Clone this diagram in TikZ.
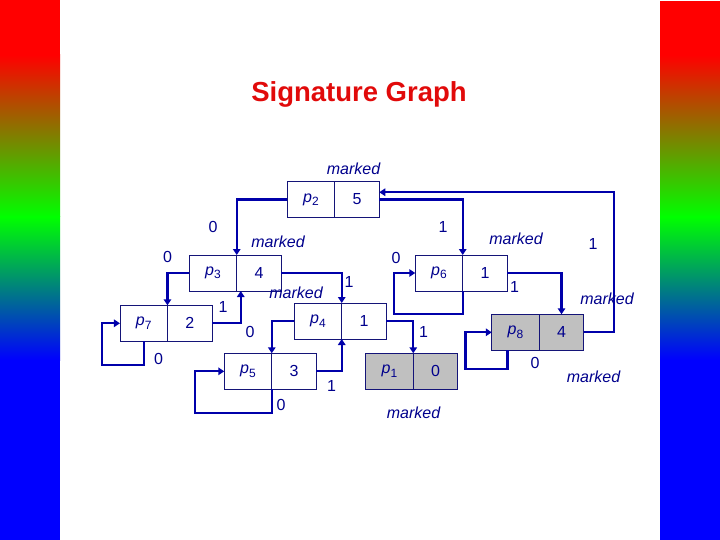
\documentclass[tikz,border=0pt]{standalone}
\usepackage{fontspec}
\setmainfont{Liberation Sans}
\usetikzlibrary{positioning, arrows.meta}

\definecolor{edgeblue}{RGB}{0,0,170}
\definecolor{boxblue}{RGB}{20,20,120}
\definecolor{txtblue}{RGB}{0,0,140}
\definecolor{cellgray}{RGB}{192,192,192}
\definecolor{titlered}{RGB}{225,10,10}
\newcommand{\pl}[1]{\textit{p}\raisebox{-3.5pt}{\fontsize{12}{12}\selectfont #1}}

\begin{document}
\begin{tikzpicture}[
  x=1pt, y=-1pt,
  namecell/.style={draw=boxblue, line width=0.8pt, minimum width=47.5pt,
    minimum height=36pt, inner sep=0pt, outer sep=0pt, text=txtblue,
    font=\fontsize{16}{16}\selectfont},
  countcell/.style={namecell, minimum width=44.5pt},
  grayed/.style={fill=cellgray},
  edge/.style={draw=edgeblue, line width=2.3pt, -{Triangle[length=6pt,width=7.5pt]}},
  lbl/.style={text=txtblue, inner sep=0pt, font=\fontsize{16}{16}\selectfont},
  mk/.style={lbl, font=\fontsize{16}{16}\selectfont\itshape},
]
  \useasboundingbox (0,0) rectangle (720,540);

  % side bars
  \foreach \bx in {0,660} {
    \fill[red] (\bx,0) rectangle ++(60,55);
    \shade[top color=red, bottom color=green] (\bx,55) rectangle ++(60,162);
    \shade[top color=green, bottom color=blue] (\bx,217) rectangle ++(60,143);
    \fill[blue] (\bx,360) rectangle ++(60,180);
  }
  \fill[white] (660,0) rectangle (720,1);

  \node[font=\bfseries\fontsize{27.5}{27.5}\selectfont, text=titlered] (title) at (359,94) {Signature Graph};

  % boxes
  \node[namecell] (p2) at (311,199.5) {\pl{2}};
  \node[countcell, right=0pt of p2] (p2c) {5};
  \node[namecell] (p3) at (213,273) {\pl{3}};
  \node[countcell, right=0pt of p3] (p3c) {4};
  \node[namecell] (p6) at (439,273) {\pl{6}};
  \node[countcell, right=0pt of p6] (p6c) {1};
  \node[namecell] (p7) at (143.7,323.3) {\pl{7}};
  \node[countcell, right=0pt of p7] (p7c) {2};
  \node[namecell] (p4) at (318,321) {\pl{4}};
  \node[countcell, right=0pt of p4] (p4c) {1};
  \node[namecell] (p5) at (248,371.3) {\pl{5}};
  \node[countcell, right=0pt of p5] (p5c) {3};
  \node[namecell, grayed] (p1) at (389.5,371.3) {\pl{1}};
  \node[countcell, grayed, right=0pt of p1] (p1c) {0};
  \node[namecell, grayed] (p8) at (515.5,332.3) {\pl{8}};
  \node[countcell, grayed, right=0pt of p8] (p8c) {4};

  % edges
  \draw[edge] (p2.west) -| (p3.north east);
  \draw[edge] (p2c.east) -| (p6.north east);
  \draw[edge] (p8c.east) -- ++(30,0) |- (p2c.18);
  \draw[edge] (p6.south east) -- ++(0,23) -- ++(-69,0) |- (p6.west);
  \draw[edge] (p6c.east) -| (p8c.north);
  \draw[edge] (p3.west) -| (p7.north east);
  \draw[edge] (p3c.east) -| (p4.north east);
  \draw[edge] (p7c.east) -| ([xshift=4pt]p3c.south west);
  \draw[edge] (p7.south) -- ++(0,24) -- ++(-42,0) |- (p7.west);
  \draw[edge] (p4.west) -| (p5.north east);
  \draw[edge] (p4c.east) -| (p1.north east);
  \draw[edge] (p5c.east) -| (p4.south east);
  \draw[edge] (p5.south east) -- ++(0,23.4) -- ++(-77,0) |- (p5.west);
  \draw[edge] ([xshift=-8pt]p8.south) -- ++(0,19) -- ++(-42,0) |- (p8.west);

  % edge labels
  \node[lbl] (l23) at (213,227) {0};
  \node[lbl] (l26) at (443,227) {1};
  \node[lbl] (l82) at (593,244) {1};
  \node[lbl] (l66) at (396,257.5) {0};
  \node[lbl] (l68) at (514.5,287) {1};
  \node[lbl] (l37) at (167.5,256.5) {0};
  \node[lbl] (l34) at (349,282) {1};
  \node[lbl] (l73) at (223,306.5) {1};
  \node[lbl] (l77) at (158.5,359) {0};
  \node[lbl] (l45) at (250,331.5) {0};
  \node[lbl] (l41) at (423.5,331.5) {1};
  \node[lbl] (l54) at (331.5,386) {1};
  \node[lbl] (l55) at (281,405) {0};
  \node[lbl] (l88) at (535,362.5) {0};

  % marks
  \node[mk] (mk2) at (353.5,169) {marked};
  \node[mk] (mk3) at (278,241.5) {marked};
  \node[mk] (mk6) at (516,239) {marked};
  \node[mk] (mk4) at (296,292.5) {marked};
  \node[mk] (mk8) at (607,298.5) {marked};
  \node[mk] (mk8b) at (593.5,376.5) {marked};
  \node[mk] (mk1) at (413.5,412.5) {marked};
\end{tikzpicture}
\end{document}
